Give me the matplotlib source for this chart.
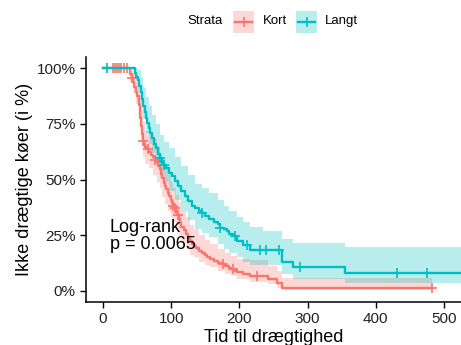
import numpy as np
import matplotlib
matplotlib.use("Agg")
import matplotlib.pyplot as plt
from matplotlib.patches import Rectangle
from matplotlib.lines import Line2D

plt.rcParams['font.family'] = ['Liberation Sans', 'DejaVu Sans']

# Kaplan-Meier curves, time in days, survival in % not pregnant
kort_t = [0, 40, 42, 44, 46, 48, 50, 52, 54, 55.5, 57, 58.5, 60, 62, 64, 67, 70, 73, 76, 79,
          81, 83, 85, 87, 89, 91, 93, 95, 97, 99, 101, 103, 105, 107, 109, 111, 113, 115,
          118, 121, 124, 127, 130, 133, 137, 141, 145, 149, 153, 157, 162, 168, 174, 179,
          184, 188, 193, 197, 205, 215.5, 242, 255, 262.5, 482]
kort_s = [100, 97.5, 95.5, 93.7, 91.5, 89.5, 87.7, 83.5, 77.5, 74, 70.5, 67.5, 65.9, 64.8,
          63.6, 62.5, 61.2, 60, 58.9, 57.7, 56.2, 54.5, 52.5, 50.5, 48.6, 47.2, 45.6, 44.1,
          42.5, 41, 39.6, 38.3, 37, 35.6, 34.2, 32.4, 30.6, 28.8, 27.2, 25.5, 23.8, 22.3,
          21.2, 20.2, 19.1, 18, 17, 16, 15.2, 14.4, 13.5, 12.6, 11.9, 11.3, 10.4, 9.7, 9.0,
          8.4, 7.7, 6.8, 5.4, 3.6, 1.4, 1.4]
kort_cens = [14, 18, 21, 24, 27, 30, 35, 42, 59, 66, 76, 103, 106, 110, 176, 190, 226, 482]

# 95% confidence band
kort_ci_t = [0, 40, 44, 48, 52, 55, 58, 62, 67, 73, 79, 83, 87, 91, 95, 99, 103, 107, 111,
             115, 121, 127, 133, 141, 149, 157, 168, 179, 188, 197, 215.5, 242, 255, 262.5, 482]
kort_lo = [100, 94, 89, 84, 77, 68, 60, 57, 55, 52, 49, 46, 42, 39, 36, 33, 31, 28, 25,
           22, 19, 16, 15, 13, 11.5, 10.5, 9, 7.5, 6.5, 5.5, 4, 3, 1.5, 0.3, 0.3]
kort_hi = [100, 100, 98, 95, 90, 83, 76, 72, 70, 68, 65, 62, 59, 55, 52, 49, 46, 43, 40,
           36, 33, 29.5, 28, 25, 23, 21, 19, 17, 15.5, 14.5, 14, 11, 9, 6, 6]

langt_t = [0, 47, 49, 51, 53, 55, 57, 59, 61, 63, 65, 67, 69, 72, 75, 78, 81, 84, 87, 90,
           93, 97, 101, 105, 110, 115, 120, 125, 130, 135, 140, 145, 150, 156, 162, 168,
           172, 177, 182, 185, 190, 196.5, 205, 215.5, 262.5, 278.6, 354.8, 540]
langt_s = [100, 98, 96, 94.5, 92, 89.5, 86.2, 83.2, 80.2, 77.5, 75.2, 73, 71, 68.5, 66, 64,
           61.5, 59.5, 57.5, 56.5, 55, 53, 51.7, 49.5, 47.2, 45, 42.7, 40.5, 38.2, 37, 35.9,
           34.8, 33.6, 32.2, 31, 29.8, 28.4, 27.6, 26.7, 25.7, 24.5, 22.5, 20.5, 18.5, 13.1,
           10.5, 8.2, 8.2]
langt_cens = [6, 84, 90, 145, 172, 193, 211, 230, 239, 258, 289, 431, 475]

langt_ci_t = [0, 47, 51, 55, 59, 63, 67, 72, 78, 84, 90, 97, 105, 115, 125, 135, 145, 156,
              168, 177, 185, 196.5, 205, 215.5, 234.6, 262.5, 278.6, 354.8, 540]
langt_lo = [100, 95, 90, 84, 77, 71, 66, 62, 57, 52, 49, 45, 41, 36, 32, 28, 26, 24, 21,
            19, 17, 15, 13, 11.5, 11.5, 7.5, 5.5, 3.7, 3.7]
langt_hi = [100, 100, 99, 96, 91, 87, 83, 79, 75, 70, 67, 64, 60, 56, 52, 48, 46, 44, 41,
            38, 36, 33, 31, 28.5, 27, 23.4, 21.6, 19.5, 19.5]

strata = ["Kort", "Langt"]
colors = ["#F8766D", "#00BFC4"]
pval = 0.0065

fig = plt.figure(figsize=(4.61, 3.45), dpi=100)
ax = fig.add_axes([86 / 461, 1 - 302 / 345, 1 - 86 / 461, (302 - 57) / 345])


def draw_km(t, s, ci_t, lo, hi, cens, col):
    t = np.asarray(t, float)
    s = np.asarray(s, float) / 100
    ax.fill_between(ci_t, np.asarray(lo) / 100, np.asarray(hi) / 100, step='post',
                    color=col, alpha=0.28, lw=0)
    ax.step(t, s, where='post', color=col, lw=1.7)
    idx = np.searchsorted(t, cens, side='right') - 1
    ax.plot(cens, s[idx], ls='none', marker='+', ms=7, mew=1.2, color=col)


draw_km(kort_t, kort_s, kort_ci_t, kort_lo, kort_hi, kort_cens, colors[0])
draw_km(langt_t, langt_s, langt_ci_t, langt_lo, langt_hi, langt_cens, colors[1])

ax.set_xlim(-25, 525)
ax.set_ylim(-0.05, 1.05)
ax.set_xticks([0, 100, 200, 300, 400, 500])
ax.set_yticks([0, 0.25, 0.5, 0.75, 1.0])
ax.set_yticklabels(["0%", "25%", "50%", "75%", "100%"])
ax.tick_params(labelsize=11, length=4, width=1, colors='black', labelcolor='#222222')
for side in ['top', 'right']:
    ax.spines[side].set_visible(False)
for side in ['left', 'bottom']:
    ax.spines[side].set_linewidth(1.1)

ax.set_xlabel("Tid til drægtighed", fontsize=13)
ax.set_ylabel("Ikke drægtige køer (i %)", fontsize=13)
ax.xaxis.set_label_coords(0.5, -0.11)
ax.yaxis.set_label_coords(-0.14, 0.5)

ax.text(10, 0.245, "Log-rank\np = %s" % pval, fontsize=13, va='center', ha='left',
        linespacing=1.0)

# legend on top
fig.text(205 / 461, 1 - 21 / 345, "Strata", fontsize=9.5, ha='center', va='center')
keys = [(233, 263), (296, 325)]
for (kx, tx), name, col in zip(keys, strata, colors):
    fig.add_artist(Rectangle((kx / 461, 1 - 33 / 345), 21 / 461, 22 / 345,
                             transform=fig.transFigure, color=col, alpha=0.28, lw=0))
    fig.add_artist(Line2D([(kx + 2) / 461, (kx + 19) / 461], [1 - 22 / 345] * 2,
                          transform=fig.transFigure, color=col, lw=1.7))
    fig.add_artist(Line2D([(kx + 10.5) / 461], [1 - 22 / 345], transform=fig.transFigure,
                          color=col, marker='+', ms=7, mew=1.2))
    fig.text(tx / 461, 1 - 21 / 345, name, fontsize=9.5, ha='left', va='center')

fig.savefig("out.png", dpi=100)
